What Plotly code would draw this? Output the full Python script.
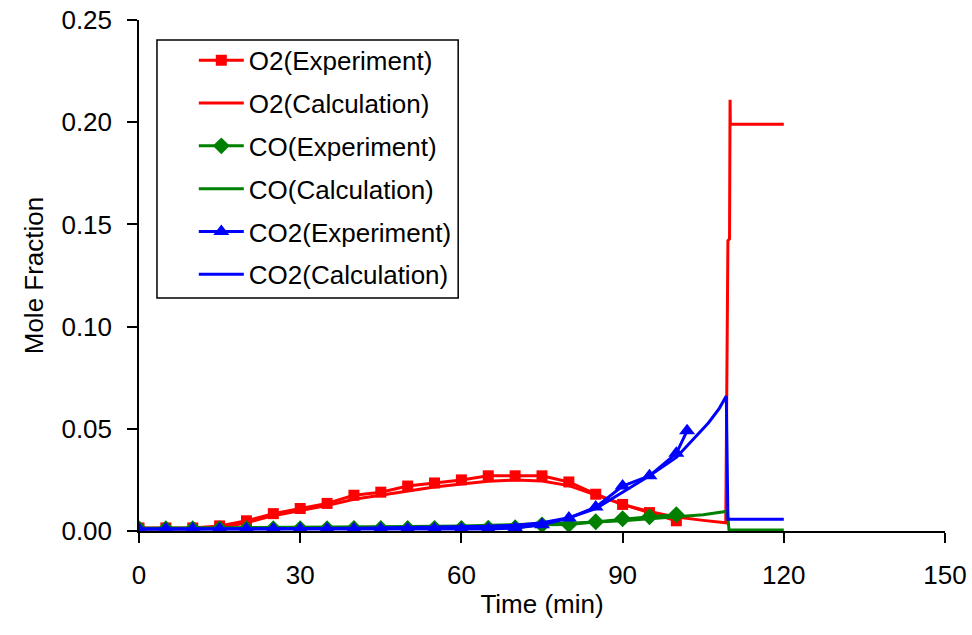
import plotly.graph_objects as go

# ---- data ----
t_exp = [0, 5, 10, 15, 20, 25, 30, 35, 40, 45, 50, 55, 60, 65, 70, 75, 80, 85, 90, 95, 100]
o2_exp = [0.0015, 0.0015, 0.0015, 0.0025, 0.005, 0.0085, 0.011, 0.0135, 0.0175, 0.019, 0.022,
          0.0235, 0.025, 0.027, 0.027, 0.027, 0.024, 0.018, 0.013, 0.009, 0.005]
co_exp = [0.0011, 0.0011, 0.0011, 0.0011, 0.0011, 0.0011, 0.0011, 0.0011, 0.0012, 0.0012, 0.0012,
          0.0013, 0.0013, 0.0014, 0.0016, 0.003, 0.0032, 0.0045, 0.006, 0.007, 0.008]
t_co2_exp = [0, 5, 10, 15, 20, 25, 30, 35, 40, 45, 50, 55, 60, 65, 70, 75, 80, 85, 90, 95, 100, 102]
co2_exp = [0.001, 0.001, 0.001, 0.001, 0.001, 0.001, 0.001, 0.001, 0.001, 0.001, 0.001,
           0.001, 0.001, 0.001, 0.0015, 0.003, 0.0063, 0.0117, 0.022, 0.027, 0.038, 0.049]

t_o2_calc = [0, 10, 15, 20, 25, 30, 35, 40, 45, 50, 55, 60, 65, 70, 75, 80, 85, 90, 95, 100, 105,
             109.2, 109.4, 109.6, 109.9, 110.0, 110.05, 120]
o2_calc = [0.001, 0.001, 0.0015, 0.004, 0.0075, 0.010, 0.0125, 0.0155, 0.0175, 0.0195, 0.0215, 0.023,
           0.0243, 0.0249, 0.0245, 0.0222, 0.0175, 0.013, 0.0095, 0.0068, 0.0052,
           0.004, 0.073, 0.142, 0.143, 0.211, 0.199, 0.199]

t_co_calc = [0, 10, 20, 30, 40, 50, 60, 70, 80, 90, 100, 105, 109.5, 109.8, 120]
co_calc = [0.0014, 0.0015, 0.0016, 0.0018, 0.002, 0.0022, 0.0025, 0.003, 0.0038, 0.005, 0.0068,
           0.008, 0.0097, 0.0005, 0.0005]

t_co2_calc = [0, 10, 20, 30, 40, 50, 60, 65, 70, 75, 80, 85, 90, 95, 100, 104, 106, 108, 109.3, 109.6, 120]
co2_calc = [0.001, 0.001, 0.001, 0.0012, 0.0014, 0.0017, 0.002, 0.0023, 0.0028, 0.004, 0.0065,
            0.011, 0.019, 0.027, 0.036, 0.047, 0.053, 0.06, 0.066, 0.0057, 0.0057]

x_ticks = [0, 30, 60, 90, 120, 150]
y_ticks = [0, 0.05, 0.10, 0.15, 0.20, 0.25]

RED, GREEN, BLUE = "#FF0000", "#008000", "#0000FF"
FONT = "Liberation Sans, Arial, sans-serif"
LW = 3

fig = go.Figure()
fig.add_trace(go.Scatter(x=t_exp, y=o2_exp, name="O2(Experiment)", mode="lines+markers",
                         line=dict(color=RED, width=LW),
                         marker=dict(symbol="square", size=11, color=RED), legendgroup="a"))
fig.add_trace(go.Scatter(x=t_o2_calc, y=o2_calc, name="O2(Calculation)", mode="lines",
                         line=dict(color=RED, width=LW), legendgroup="b"))
fig.add_trace(go.Scatter(x=t_exp, y=co_exp, name="CO(Experiment)", mode="lines+markers",
                         line=dict(color=GREEN, width=LW),
                         marker=dict(symbol="diamond", size=13, color=GREEN), legendgroup="c"))
fig.add_trace(go.Scatter(x=t_co_calc, y=co_calc, name="CO(Calculation)", mode="lines",
                         line=dict(color=GREEN, width=LW), legendgroup="d"))
fig.add_trace(go.Scatter(x=t_co2_exp, y=co2_exp, name="CO2(Experiment)", mode="lines+markers",
                         line=dict(color=BLUE, width=LW),
                         marker=dict(symbol="triangle-up", size=14, color=BLUE), legendgroup="e"))
fig.add_trace(go.Scatter(x=t_co2_calc, y=co2_calc, name="CO2(Calculation)", mode="lines",
                         line=dict(color=BLUE, width=LW), legendgroup="f"))

fig.update_layout(
    width=972, height=635,
    margin=dict(l=139, r=27, t=20, b=104, autoexpand=False),
    plot_bgcolor="white", paper_bgcolor="white",
    font=dict(family=FONT, size=26, color="black"),
    showlegend=True,
    legend=dict(x=0.068, y=0.967, xanchor="left", yanchor="top",
                borderwidth=0, bgcolor="rgba(0,0,0,0)",
                font=dict(family=FONT, size=26, color="black"),
                tracegroupgap=6, itemwidth=45, traceorder="grouped"),
    shapes=[dict(type="rect", xref="paper", yref="paper",
                 x0=0.0223, x1=0.396, y0=0.456, y1=0.961,
                 line=dict(color="black", width=1.5), fillcolor="white", layer="below")],
)
fig.update_xaxes(range=[0, 150], tickvals=x_ticks, ticktext=[str(v) for v in x_ticks],
                 showline=True, linecolor="black", linewidth=1.5, automargin=False,
                 ticks="outside", ticklen=10, tickwidth=1.5, tickcolor="black",
                 showgrid=False, zeroline=False, ticklabelstandoff=10,
                 title=dict(text="Time (min)", standoff=6, font=dict(size=26)),
                 tickfont=dict(size=26))
fig.update_yaxes(range=[0, 0.25], tickvals=y_ticks, tickformat=".2f",
                 showline=True, linecolor="black", linewidth=1.5, automargin=False,
                 ticks="outside", ticklen=10, tickwidth=1.5, tickcolor="black",
                 showgrid=False, zeroline=False, ticklabelstandoff=10,
                 title=dict(text="Mole Fraction", standoff=10, font=dict(size=26)),
                 tickfont=dict(size=26))

fig.write_html("out.html")
